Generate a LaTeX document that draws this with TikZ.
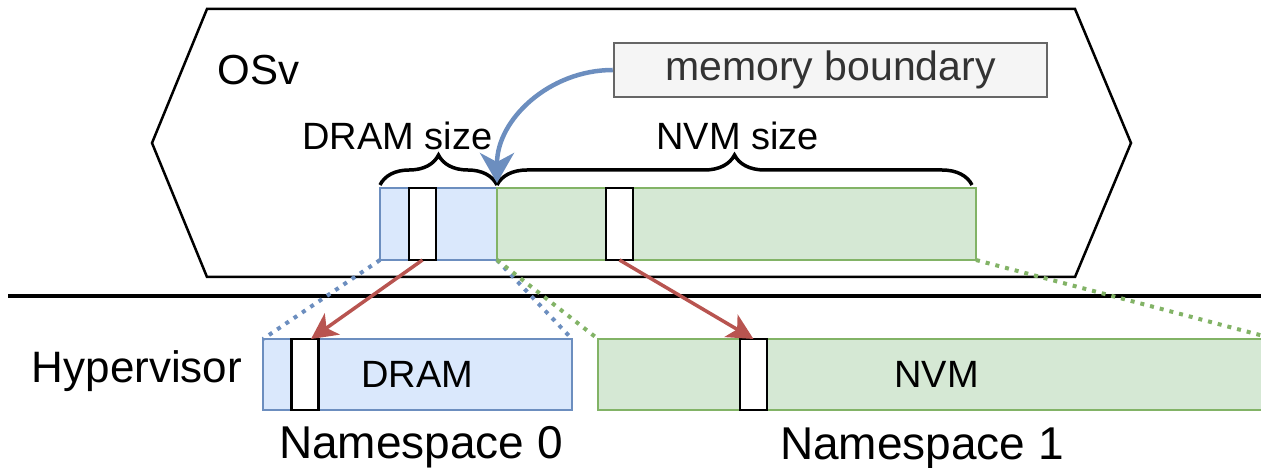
\documentclass[tikz,border=0pt]{standalone}
\usepackage{fontspec}
\setmainfont{Liberation Sans}
\usetikzlibrary{arrows.meta,positioning,decorations.pathreplacing}
\definecolor{dramfill}{HTML}{DAE8FC}
\definecolor{dramline}{HTML}{6C8EBF}
\definecolor{nvmfill}{HTML}{D5E8D4}
\definecolor{nvmline}{HTML}{82B366}
\definecolor{boxfill}{HTML}{F5F5F5}
\definecolor{boxline}{HTML}{666666}
\definecolor{boxtext}{HTML}{333333}
\definecolor{mapred}{HTML}{B85450}
\tikzset{
  dramcell/.style={draw=dramline, fill=dramfill, line width=1.5pt, inner sep=0pt, outer sep=0pt, font=\fontsize{38}{44}\selectfont},
  nvmcell/.style={draw=nvmline, fill=nvmfill, line width=1.5pt, inner sep=0pt, outer sep=0pt, font=\fontsize{38}{44}\selectfont},
  slot/.style={draw=black, fill=white, line width=2.5pt, minimum width=27pt, inner sep=0pt, outer sep=0pt},
  mbox/.style={draw=boxline, fill=boxfill, line width=2.5pt, text=boxtext, inner sep=0pt, font=\fontsize{41}{47}\selectfont},
  txt/.style={inner sep=0pt, anchor=base, font=\fontsize{38}{44}\selectfont},
  bigtxt/.style={inner sep=0pt, anchor=base, font=\fontsize{46}{52}\selectfont},
  zoomdots/.style={dash pattern=on 4pt off 6pt, line width=4pt},
  mapto/.style={-{Stealth[length=26pt,width=26pt,inset=7pt]}, draw=mapred, line width=3.5pt},
  bound/.style={-{Stealth[length=30pt,width=34pt,inset=9pt]}, draw=dramline, line width=4.5pt},
  sizebrace/.style={decorate, decoration={brace, amplitude=30pt}, line width=3.5pt},
}
\begin{document}
\begin{tikzpicture}[x=1pt,y=1pt]
  \useasboundingbox (0,0) rectangle (1261,468);
  \clip (0,0) rectangle (1261,468);
  % guest
  \draw[line width=2.5pt, line join=miter] (207,459) -- (1075,459) -- (1131,325) -- (1075,191) -- (207,191) -- (152,325) -- cycle;
  \node[inner sep=0pt, anchor=base, font=\fontsize{42}{48}\selectfont] (osv) at (258.5,383) {OSv};
  \node[mbox, minimum width=433pt, minimum height=54pt] (mb) at (830.5,398) {memory boundary};
  \node[dramcell, minimum width=117pt, minimum height=72pt] (dtop) at (438.5,244) {};
  \node[nvmcell, minimum width=479pt, minimum height=72pt, right=0pt of dtop] (ntop) {};
  \node[slot, minimum height=72pt] (s0) at (422.5,244) {};
  \node[slot, minimum height=72pt] (s1) at (619.5,244) {};
  \draw[sizebrace] ([yshift=3pt]dtop.north west) -- ([yshift=3pt]dtop.north east);
  \draw[sizebrace] ([yshift=3pt]ntop.north west) -- ([yshift=3pt,xshift=-4pt]ntop.north east);
  \node[txt] (dsize) at (397.5,318) {DRAM size};
  \node[txt] (nsize) at (737.5,318) {NVM size};
  % host
  \draw[line width=3.5pt] (8,172) -- (1261,172);
  \node[bigtxt, font=\fontsize{44}{50}\selectfont] (hv) at (137,85) {Hypervisor};
  \node[dramcell, minimum width=309pt, minimum height=71pt] (dram) at (417.5,93.5) {DRAM};
  \node[nvmcell, minimum width=677pt, minimum height=71pt] (nvm) at (936.5,93.5) {NVM};
  \node[slot, minimum height=71pt] (s2) at (305,93.5) {};
  \node[slot, minimum height=71pt] (s3) at (753.5,93.5) {};
  \node[bigtxt] (ns0) at (421,9) {Namespace 0};
  \node[bigtxt] (ns1) at (922,8) {Namespace 1};
  % mapping
  \draw[zoomdots, draw=dramline] (dtop.south west) -- (dram.north west);
  \draw[zoomdots, draw=dramline] (dtop.south east) -- (dram.north east);
  \draw[zoomdots, draw=nvmline] (ntop.south west) -- (nvm.north west);
  \draw[zoomdots, draw=nvmline] (ntop.south east) -- (nvm.north east);
  \draw[mapto] (s0.south) -- ([xshift=6pt]s2.north);
  \draw[mapto] (s1.south) -- (s3.north);
  \draw[bound] (mb.west) to[out=180, in=90] ([yshift=5pt]dtop.north east);
\end{tikzpicture}
\end{document}
